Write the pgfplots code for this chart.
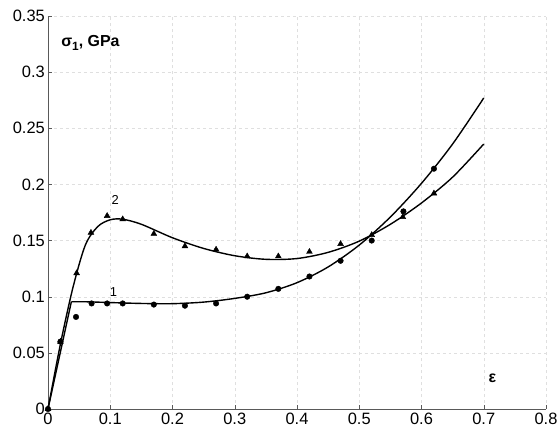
\documentclass[border=0pt]{standalone}
\usepackage{pgfplots}
\pgfplotsset{compat=1.18}
\usepackage{fontspec}
\setmainfont{Liberation Sans}
\newcommand{\tl}[1]{{\fontsize{16.5}{19}\selectfont #1}}
\begin{document}
\begin{tikzpicture}
\path (-48bp,-26bp) rectangle (512bp,409bp);
\begin{axis}[
  scale only axis,
  width=498bp, height=393bp,
  xmin=0, xmax=0.8, ymin=0, ymax=0.35,
  axis x line=bottom, axis y line=left,
  axis line style={-, gray!70!black},
  tick align=inside,
  major tick length=4bp,
  tick style={gray!70!black},
  xtick={0,0.1,0.2,0.3,0.4,0.5,0.6,0.7,0.8}, ytick={0,0.05,0.1,0.15,0.2,0.25,0.3,0.35},
  xticklabels={\tl{0},\tl{0.1},\tl{0.2},\tl{0.3},\tl{0.4},\tl{0.5},\tl{0.6},\tl{0.7},\tl{0.8}},
  yticklabels={\tl{0},\tl{0.05},\tl{0.1},\tl{0.15},\tl{0.2},\tl{0.25},\tl{0.3},\tl{0.35}},
  xticklabel style={inner xsep=0pt, yshift=-1bp},
  yticklabel style={inner xsep=0pt, xshift=-3bp},
  grid=major,
  major grid style={dashed, gray!25},
  clip=false,
]
\addplot[black, line width=1.4pt] coordinates {(0,0) (0.0375,0.0955)};
\addplot[black, line width=1.4pt, smooth] coordinates {
(0.0375,0.0955) (0.06,0.0955) (0.1,0.0948) (0.15,0.094) (0.2,0.0938) (0.25,0.0952) (0.3,0.0985) (0.35,0.1035) (0.4,0.1125) (0.45,0.1265) (0.5,0.146) (0.55,0.171) (0.6,0.201) (0.65,0.236) (0.7,0.277)
};
\addplot[black, line width=1.4pt, smooth] coordinates {
(0,0) (0.02,0.058) (0.04,0.108) (0.06,0.146) (0.08,0.1625) (0.1,0.1685) (0.12,0.169) (0.15,0.1645) (0.2,0.1525) (0.25,0.143) (0.3,0.1365) (0.35,0.1333) (0.4,0.134) (0.45,0.1395) (0.5,0.1495) (0.55,0.1645) (0.6,0.1835) (0.65,0.2065) (0.7,0.236)
};
\addplot[only marks, mark=*, mark size=2.8pt, black] coordinates {
(0,0) (0.02,0.06) (0.045,0.082) (0.07,0.094) (0.095,0.094) (0.12,0.094) (0.17,0.093) (0.22,0.092) (0.27,0.094) (0.32,0.100) (0.37,0.107) (0.42,0.118) (0.47,0.132) (0.52,0.150) (0.571,0.176) (0.62,0.214)
};
\addplot[only marks, mark=triangle*, mark size=3.4pt, black] coordinates {
(0,0) (0.02,0.06) (0.046,0.121) (0.069,0.157) (0.095,0.172) (0.12,0.169) (0.17,0.156) (0.22,0.145) (0.27,0.142) (0.32,0.136) (0.37,0.136) (0.42,0.140) (0.47,0.147) (0.52,0.155) (0.57,0.171) (0.62,0.192)
};
\node[anchor=west, font=\bfseries\fontsize{16}{18}\selectfont, inner sep=0pt] at (axis cs:0.021,0.326) {σ\raisebox{-0.5ex}{\fontsize{12}{14}\selectfont 1}, GPa};
\node[font=\bfseries\fontsize{16}{18}\selectfont, inner sep=0pt] at (axis cs:0.714,0.027) {ε};
\node[font=\fontsize{13}{15}\selectfont, inner sep=0pt] at (axis cs:0.108,0.186) {2};
\node[font=\fontsize{13}{15}\selectfont, inner sep=0pt] at (axis cs:0.105,0.104) {1};
\end{axis}
\end{tikzpicture}
\end{document}
